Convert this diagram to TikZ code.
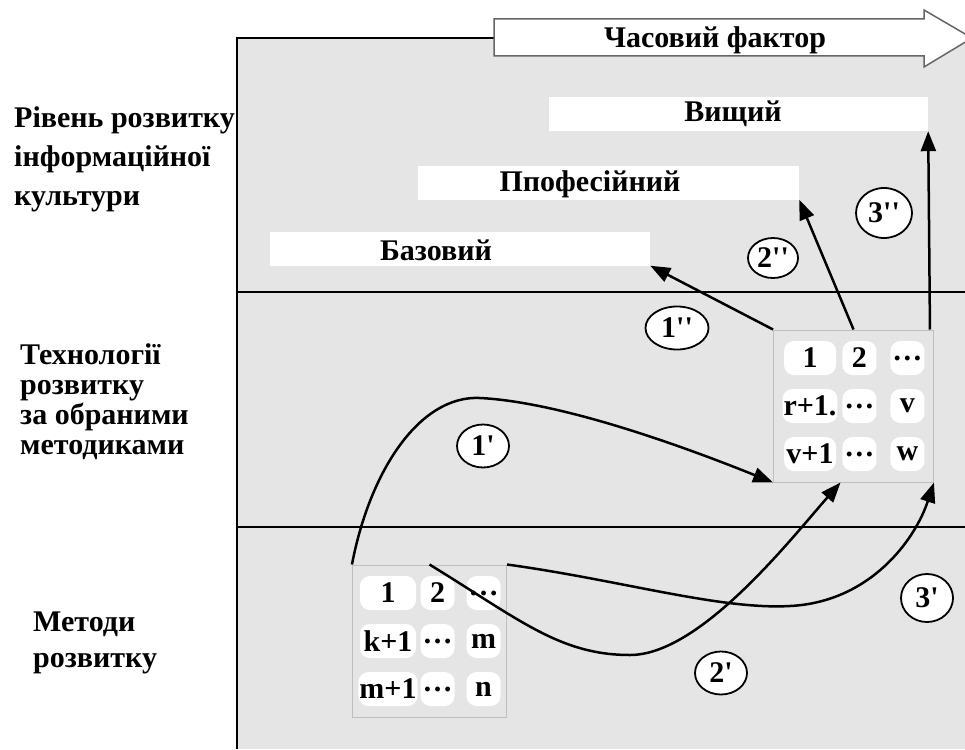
\documentclass[tikz,border=0pt]{standalone}
\usepackage{fontspec}
\setmainfont{Liberation Serif}
\usetikzlibrary{matrix,shapes.geometric,arrows.meta}

\newcommand\prm{\textquotesingle}

\tikzset{
  cell/.style={fill=white, rounded corners=10pt, minimum width=34pt,
    minimum height=34pt, inner sep=1pt, anchor=center},
  bar/.style={fill=white, minimum height=34pt, inner sep=0pt},
  lev/.style={anchor=north west, align=left, inner sep=0pt},
  num/.style={draw, ellipse, fill=white, line width=1.8pt, inner sep=0pt,
    minimum width=52pt, minimum height=43pt},
  link/.style={line width=2.5pt, -{Triangle[length=20pt,width=15pt]}},
}

\begin{document}
\begin{tikzpicture}[x=1pt, y=-1pt, font=\bfseries\fontsize{30}{35}\selectfont]

\useasboundingbox (0,0) rectangle (965,749);

% background of the three levels
\fill[black!10] (237,38) rectangle (965,749);
\draw[line width=2pt] (494,38) -- (237,38) -- (237,749);
\draw[line width=1.5pt] (237,292) -- (965,292);
\draw[line width=1.5pt] (237,527) -- (965,527);

% time arrow
\draw[fill=white, draw=black!60, line width=1.5pt] (494,19) -- (924,19) -- (924,10)
  -- (972,38) -- (924,67) -- (924,56) -- (494,56) -- cycle;
\node (faktor) at (715,40) {Часовий фактор};

% row titles
\node[lev, font=\bfseries\fontsize{30}{39}\selectfont] (riven) at (14,106)
  {Рівень розвитку\\інформаційної\\культури};
\node[lev, font=\bfseries\fontsize{30}{30}\selectfont] (tehn) at (20,343)
  {Технології\\розвитку\\за обраними\\методиками};
\node[lev, font=\bfseries\fontsize{30}{36}\selectfont] (metodytxt) at (33,612)
  {Методи\\розвитку};

% levels
\node[bar, minimum width=379pt] (vyshchyi) at (738.5,114) {};
\node (vyshchyitxt) at (733,114) {Вищий};
\node[bar, minimum width=381pt] (profesiinyi) at (608.5,182.5) {};
\node (profesiinyitxt) at (590,184) {Ппофесійний};
\node[bar, minimum width=380pt] (bazovyi) at (460,248.5) {};
\node (bazovyitxt) at (436,250) {Базовий};

% technologies
\matrix (tech) [matrix of nodes, nodes={cell},
column sep=5pt, row sep=14pt,
draw=black!25, line width=1pt, inner xsep=9pt, inner ysep=11pt,
column 1/.style={nodes={minimum width=52pt}}] at (853.5,406) {
1   &2      &[9pt] \dots\\
r+1.&\dots  &v\\
v+1 &\dots  &w\\
};

% methods
\matrix (metody) [matrix of nodes, nodes={cell},
column sep=3pt, row sep=14pt,
draw=black!25, line width=1pt, inner xsep=6pt, inner ysep=11pt,
column 1/.style={nodes={minimum width=56pt}}] at (429.5,641) {
1   &2      &[9pt] \dots\\
k+1 &\dots  &m\\
m+1 &\dots  &n\\
};

% transitions
\draw[link] (tech.north west) -- (bazovyi.south east);
\draw[link] (tech.north) -- (profesiinyi.south east);
\draw[link] ([xshift=-4pt]tech.north east) -- (vyshchyi.south east);

\draw[link] (metody.north west) .. controls (370,470) and (420,395) .. (480,398)
  .. controls (560,402) and (680,445) .. (tech.south west);
\draw[link] (metody.north) .. controls (520,620) and (560,655) .. (630,655)
  .. controls (700,655) and (790,540) .. ([xshift=-13pt]tech.south);
\draw[link] (metody.north east) .. controls (620,580) and (720,610) .. (790,606)
  .. controls (870,602) and (915,540) .. (tech.south east);

\node[num, minimum width=63pt] (n1b) at (677,328) {1\prm\prm};
\node[num, minimum width=50pt, minimum height=40pt] (n2b) at (773,258) {2\prm\prm};
\node[num, minimum width=56pt, minimum height=50pt] (n3b) at (884,213) {3\prm\prm};
\node[num] (n1a) at (483,446) {1\prm};
\node[num] (n2a) at (721,673) {2\prm};
\node[num, minimum height=48pt] (n3a) at (927,598) {3\prm};

\end{tikzpicture}
\end{document}
